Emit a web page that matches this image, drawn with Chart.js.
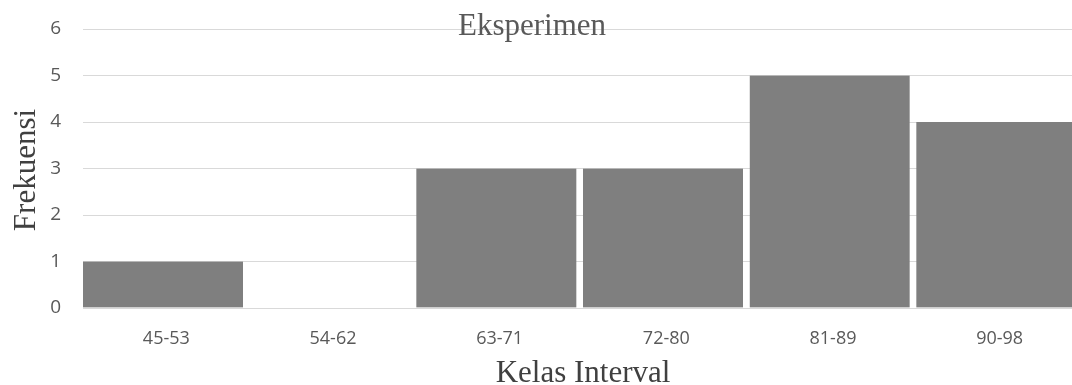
<!DOCTYPE html>
<html>
<head>
<meta charset="utf-8">
<script src="https://cdn.jsdelivr.net/npm/chart.js@4/dist/chart.umd.min.js"></script>
<style>
html,body{margin:0;padding:0;background:#fff;overflow:hidden;width:1072px;height:385px;}
#wrap{width:1083px;height:385px;position:relative;}
</style>
</head>
<body>
<div id="wrap"><canvas id="c"></canvas></div>
<script>
const categories = ["45-53", "54-62", "63-71", "72-80", "81-89", "90-98"];
const frekuensi = [1, 0, 3, 3, 5, 4];
const yTicks = [0, 1, 2, 3, 4, 5, 6];
const chartTitle = "Eksperimen";
const xTitle = "Kelas Interval";
const yTitle = "Frekuensi";

const textPlugin = {
  id: 'textPlugin',
  afterDraw(chart) {
    const ctx = chart.ctx;
    const area = chart.chartArea;
    ctx.save();
    ctx.textAlign = 'center';
    ctx.textBaseline = 'alphabetic';
    ctx.font = '31px "Liberation Serif"';
    ctx.fillStyle = '#595959';
    ctx.fillText(chartTitle, 532, 35);
    ctx.fillStyle = '#404040';
    ctx.fillText(xTitle, (area.left + area.right) / 2, 382);
    ctx.translate(35, 170);
    ctx.rotate(-Math.PI / 2);
    ctx.fillText(yTitle, 0, 0);
    ctx.restore();
  }
};

new Chart(document.getElementById('c'), {
  type: 'bar',
  data: {
    labels: categories,
    datasets: [{
      data: frekuensi,
      backgroundColor: '#7f7f7f',
      borderColor: 'rgba(0,0,0,0)',
      borderWidth: { top: 0, left: 0, bottom: 0, right: 7 },
      borderSkipped: false,
      categoryPercentage: 1,
      barPercentage: 1
    }]
  },
  plugins: [textPlugin],
  options: {
    responsive: true,
    maintainAspectRatio: false,
    animation: false,
    layout: { padding: { left: 0, right: 0, top: 29, bottom: 0 } },
    plugins: { legend: { display: false }, title: { display: false }, tooltip: { enabled: false } },
    scales: {
      x: {
        grid: { display: false, drawTicks: false },
        border: { display: true, color: '#d9d9d9', width: 1 },
        ticks: { color: '#595959', font: { family: '"Open Sans"', size: 18 }, padding: 20, maxRotation: 0 },
        afterFit(scale) { scale.height = 77; scale.paddingLeft = 0; scale.paddingRight = 0; }
      },
      y: {
        min: 0, max: 6,
        afterBuildTicks(scale) { scale.ticks = yTicks.map(v => ({ value: v })); },
        ticks: { color: '#595959', font: { family: '"Open Sans"', size: 19 }, padding: 22 },
        grid: { color: '#d9d9d9', lineWidth: 1, drawTicks: false },
        border: { display: false },
        afterFit(scale) { scale.width = 83; scale.paddingTop = 0; scale.paddingBottom = 0; }
      }
    }
  }
});
</script>
</body>
</html>
